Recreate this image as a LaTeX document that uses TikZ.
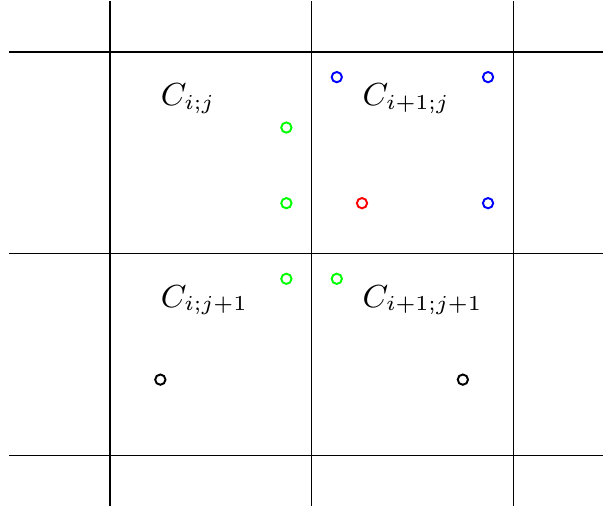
\documentclass[tikz,border=0pt]{standalone}
\usepackage{amsmath}
\usepackage{tikz}
\usetikzlibrary{calc}

\tikzset{
    pt/.style={circle, draw, line width=0.55pt, inner sep=0pt, minimum size=2.9pt},
    cell/.style={anchor=base west, inner sep=0pt, font=\small}
}

\begin{document}
\begin{tikzpicture}[x=0.5cm, y=0.5cm, line width=0.35pt]
    \useasboundingbox (-2.18,-1.03) rectangle (9.78,9.03);
    % grid
    \foreach \k in {0,4,8} {
        \draw (\k,-1.0) -- (\k,9.0);
        \draw (-2.0,\k) -- (9.78,\k);
    }
    % cell labels
    \node[cell] (cij)   at (1,6.93) {$C_{i;j}$};
    \node[cell] (cipj)  at (5,6.93) {$C_{i+1;j}$};
    \node[cell] (cijp)  at (1,2.94) {$C_{i;j+1}$};
    \node[cell] (cipjp) at (5,2.94) {$C_{i+1;j+1}$};
    % sample points
    \node[pt, blue]  (b1) at (4.5,7.5) {};
    \node[pt, blue]  (b2) at (7.5,7.5) {};
    \node[pt, blue]  (b3) at (7.5,5.0) {};
    \node[pt, red]   (r1) at (5.0,5.0) {};
    \node[pt, green] (g1) at (3.5,6.5) {};
    \node[pt, green] (g2) at (3.5,5.0) {};
    \node[pt, green] (g3) at (3.5,3.5) {};
    \node[pt, green] (g4) at (4.5,3.5) {};
    \node[pt, black] (k1) at (1.0,1.5) {};
    \node[pt, black] (k2) at (7.0,1.5) {};
\end{tikzpicture}
\end{document}
